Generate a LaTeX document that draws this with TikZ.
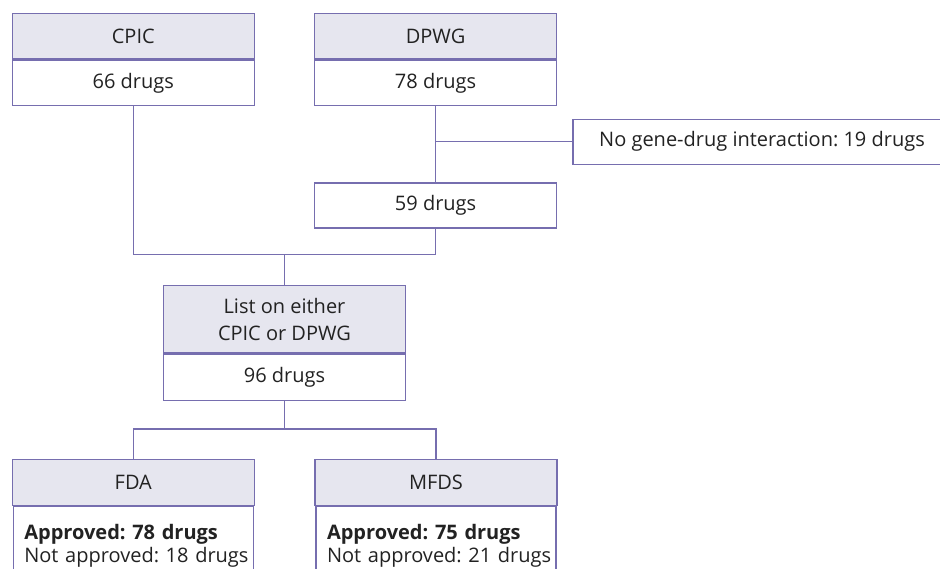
\documentclass[tikz,border=0pt]{standalone}
\usepackage{fontspec}
\setmainfont{Open Sans}
\usepackage{xcolor}
\usepackage{tikz}
\usetikzlibrary{positioning}
\frenchspacing

\definecolor{boxline}{RGB}{118,110,175}
\definecolor{headfill}{RGB}{230,230,239}
\definecolor{txtgray}{RGB}{34,34,34}

\begin{document}
\begin{tikzpicture}[
        x=1pt, y=1pt,
        node distance=0pt,
        every node/.style={font=\fontsize{20}{27}\selectfont, text=txtgray},
        headbox/.style={draw=boxline, line width=1.4pt, fill=headfill, minimum width=242pt, minimum height=45.5pt, align=center},
        bodybox/.style={draw=boxline, line width=1.4pt, fill=white, minimum width=242pt, minimum height=45pt, align=center},
        countbox/.style={draw=boxline, line width=1.4pt, fill=white, font=\fontsize{20}{23}\selectfont, text width=218pt, inner xsep=11pt, minimum height=78pt, align=left},
        line/.style={draw=boxline, line width=1.4pt}
    ]
    \useasboundingbox (0,0) rectangle (940,-568);
    \clip (0,0) rectangle (940,-568);

    % Guideline sources
    \node[headbox] (cpic) at (133.3,-36.3) {CPIC};
    \node[bodybox, below=of cpic] (cpicn) {66 drugs};
    \node[headbox] (dpwg) at (435.6,-36.3) {DPWG};
    \node[bodybox, below=of dpwg] (dpwgn) {78 drugs};
    \node[bodybox, below=76pt of dpwgn] (kept) {59 drugs};
    \node[bodybox, anchor=west, minimum width=378pt] (nogene) at (572.3,-141.7) {No gene-drug interaction: 19 drugs};

    % Combined list
    \node[headbox, minimum height=67.7pt] (either) at (284.5,-319.2) {List on either\\CPIC or DPWG};
    \node[bodybox, below=of either, minimum height=46pt] (eithern) {96 drugs};

    % Approval
    \node[headbox] (fda) at (133.3,-482.5) {FDA};
    \node[countbox, below=of fda] (fdan) {\mbox{\textbf{Approved: 78 drugs}}\\\mbox{Not approved: 18 drugs}};
    \node[headbox] (mfds) at (436,-482.5) {MFDS};
    \node[countbox, below=of mfds] (mfdsn) {\mbox{\textbf{Approved: 75 drugs}}\\\mbox{Not approved: 21 drugs}};

    % Connectors
    \coordinate (merge) at (284.5,-254.7);
    \coordinate (split) at (284.5,-429);
    \draw[line] (dpwgn.south) -- (kept.north);
    \draw[line] (dpwgn.south |- nogene.west) -- (nogene.west);
    \draw[line] (cpicn.south) |- (merge) -| (kept.south);
    \draw[line] (merge) -- (either.north);
    \draw[line] (eithern.south) -- (split);
    \draw[line] (fda.north) |- (split) -| (mfds.north);

\end{tikzpicture}
\end{document}
